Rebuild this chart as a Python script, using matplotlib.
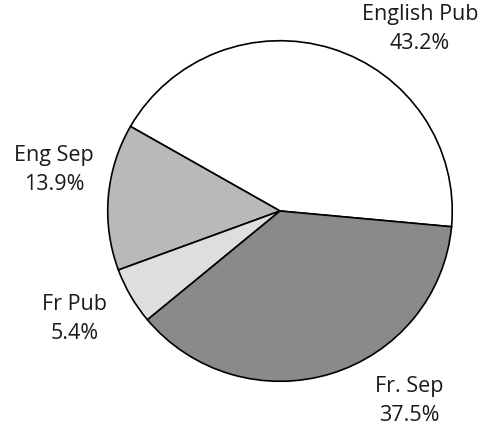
import matplotlib
matplotlib.use("Agg")
import matplotlib.pyplot as plt

# slice data (counterclockwise from the right)
labels = ['English Pub', 'Eng Sep', 'Fr Pub', 'Fr. Sep']
shares = [43.2, 13.9, 5.4, 37.5]
colors = ['#ffffff', '#b9b9b9', '#dedede', '#8a8a8a']

W, H = 484, 429
fig = plt.figure(figsize=(W / 100, H / 100), dpi=100)
plt.rcParams['font.family'] = ['Open Sans', 'DejaVu Sans']

cx, cy, rx, ry = 280, 211, 174, 172
ax = fig.add_axes([(cx - rx) / W, (H - cy - ry) / H, 2 * rx / W, 2 * ry / H])
ax.pie(shares, colors=colors, startangle=-5.3, counterclock=True,
       wedgeprops=dict(edgecolor='black', linewidth=1.2))
ax.set_xlim(-1.01, 1.01)
ax.set_ylim(-1.01, 1.01)
ax.set_aspect('auto')
ax.axis('off')

# label positions in pixels (centre of text block)
label_pos = [(420, 29), (54, 170), (75, 319), (409, 401)]
for lab, val, (px, py) in zip(labels, shares, label_pos):
    fig.text(px / W, 1 - py / H, f"{lab}\n{val:.1f}%", ha='center', va='center',
             fontsize=15.5, color='#1a1a1a', linespacing=1.55)

fig.savefig('out.png', dpi=100)
